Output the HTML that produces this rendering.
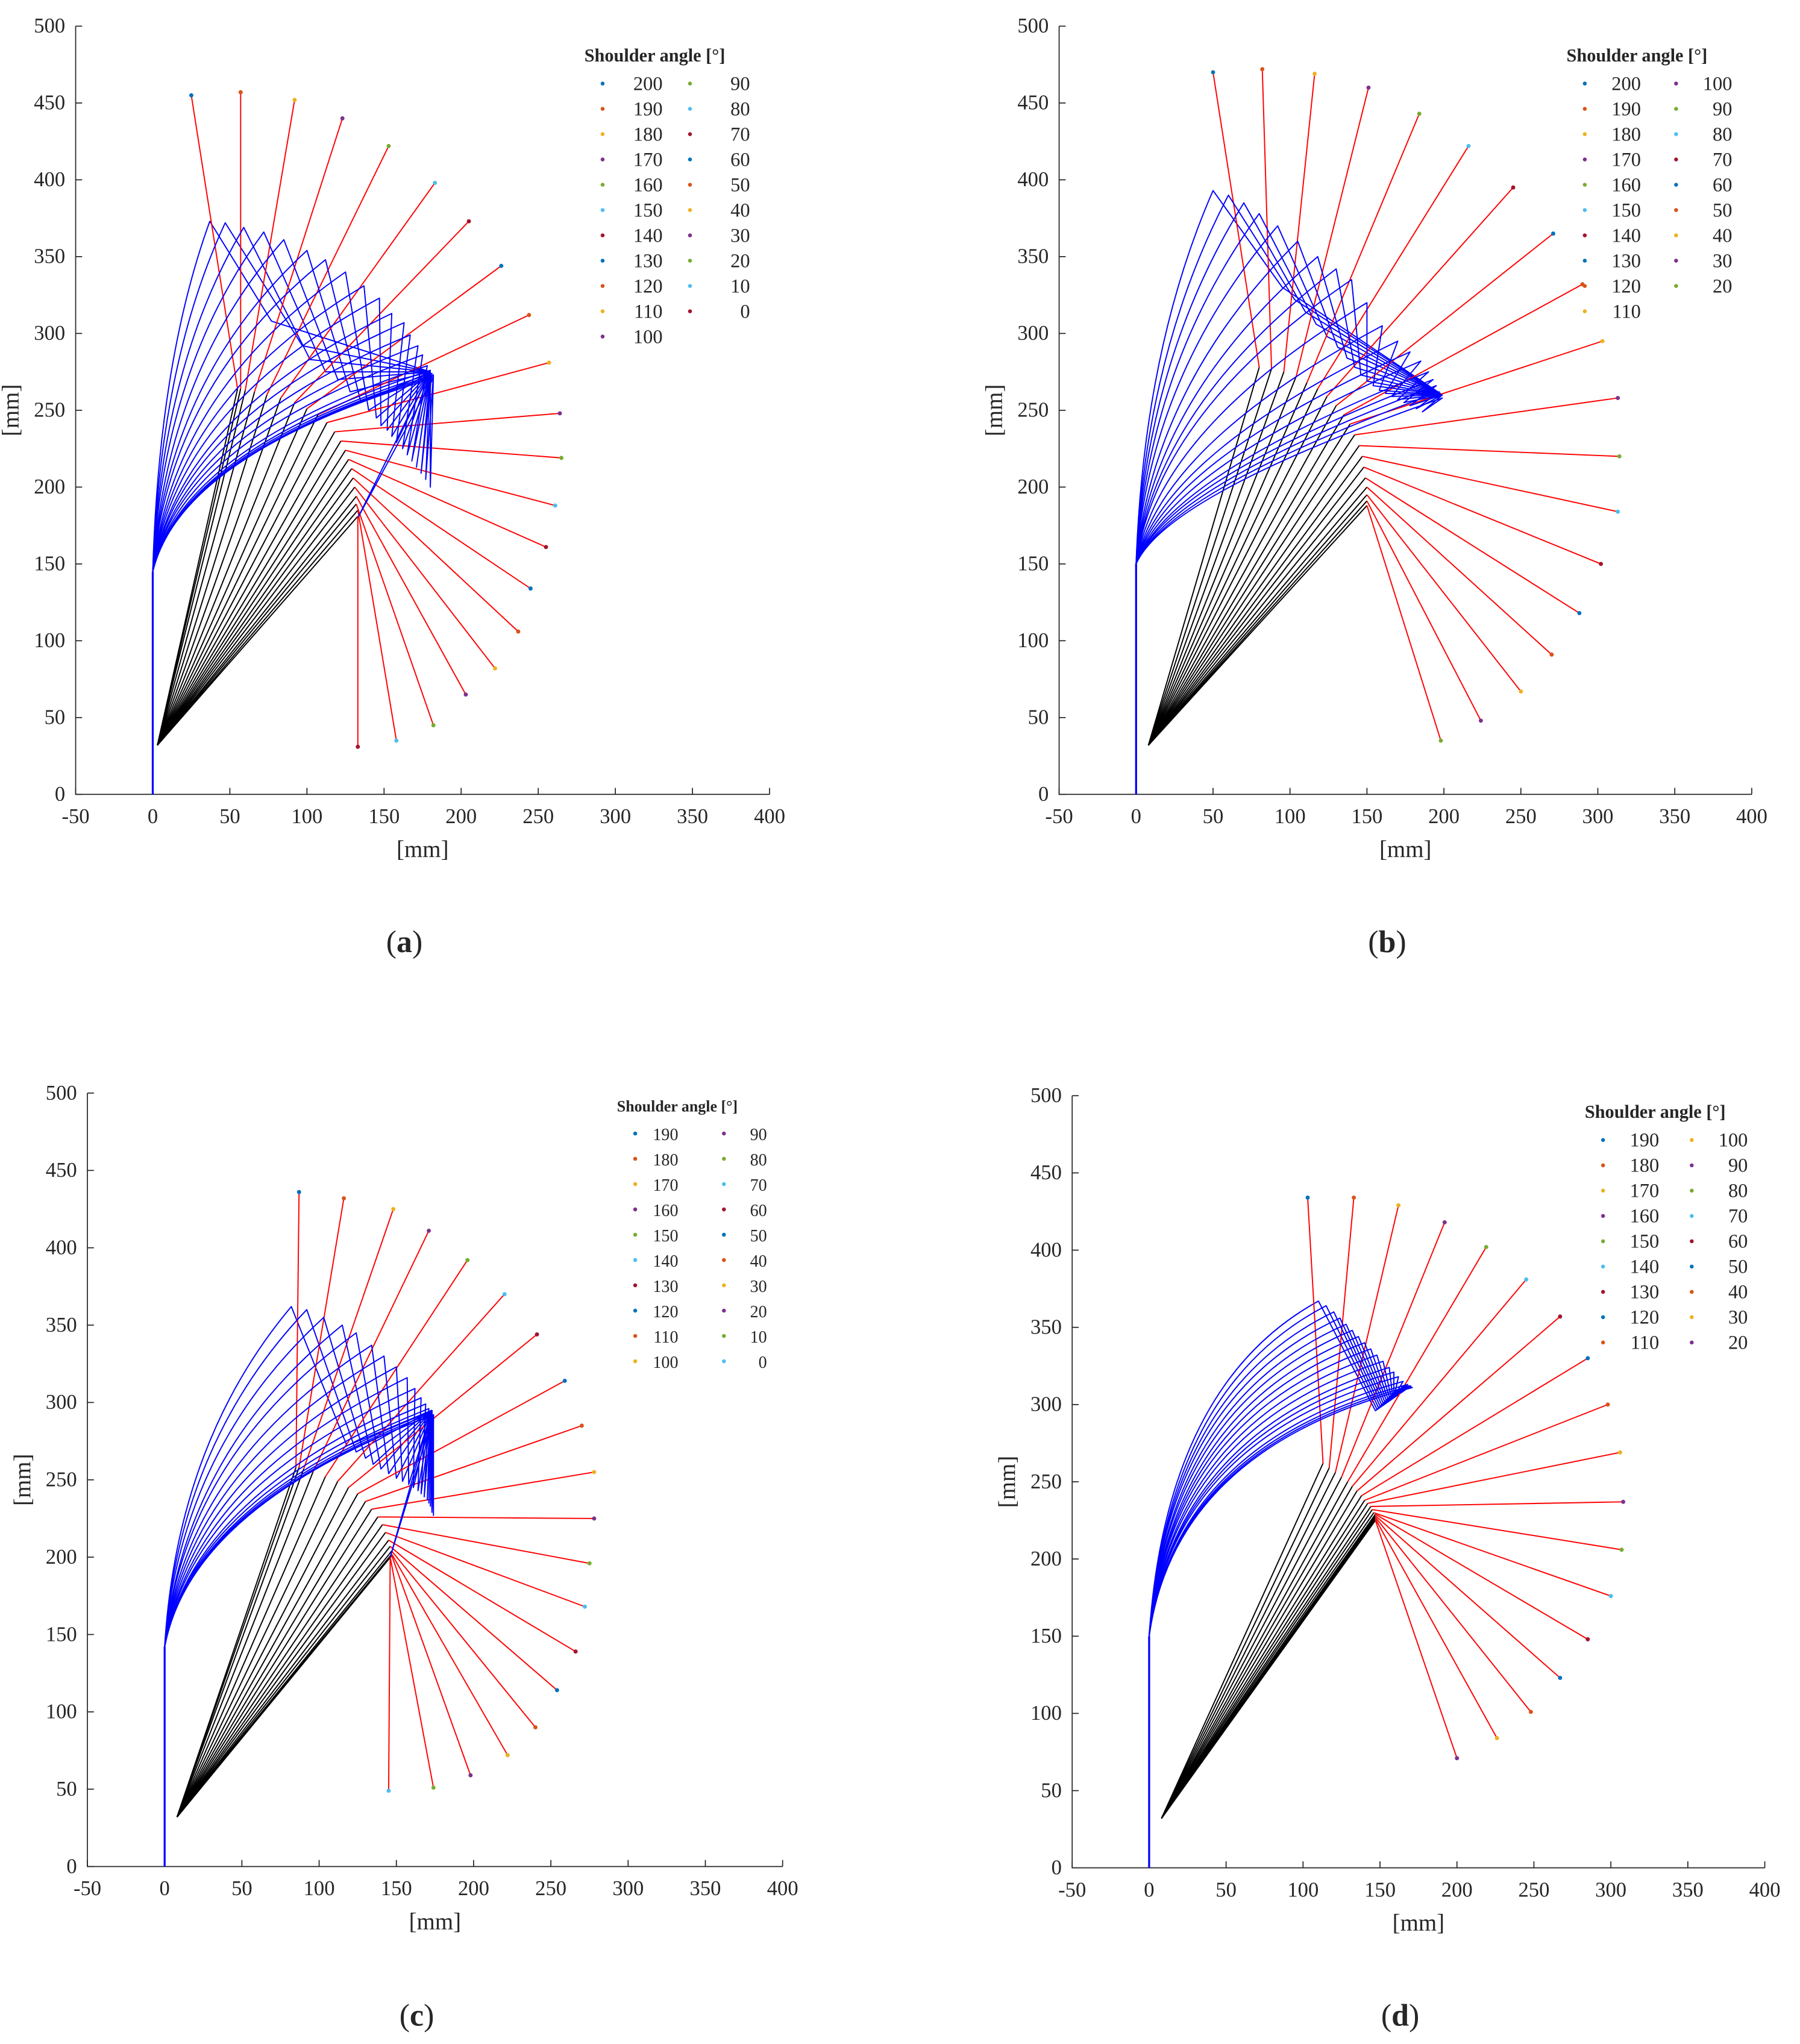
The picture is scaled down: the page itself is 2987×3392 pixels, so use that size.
<!DOCTYPE html>
<html><head><meta charset="utf-8">
<style>
html,body{margin:0;padding:0;background:#fff;}
svg{display:block;}
text{font-family:"Liberation Serif",serif;fill:#262626;}
</style></head>
<body>
<svg id="fig" width="2987" height="3392" viewBox="0 0 1380 1567" xmlns="http://www.w3.org/2000/svg">
<rect width="1380" height="1567" fill="#fff"/>
</svg>
<script>
// ---------- data (mm) ----------
const aAngles=[200,190,180,170,160,150,140,130,120,110,100,90,80,70,60,50,40,30,20,10,0];
const aTipX=[25,57,92,123,153,183,205,226,244,257,264,265,261,255,245,237,222,203,182,158,133];
const aTipY=[455,457,452,440,422,398,373,344,312,281,248,219,188,161,134,106,82,65,45,35,31];
const aElbX=[55,57,60,66,74,83,92,100,107,113,118,122,125,127,129,130,131,132,132,133,133];
const aElbY=[264,264,263,262,260,258,255,251,247,242,236,230,224,218,212,206,200,194,189,185,181];
const aKneeX=[4,5,6,7,9,10,11,13,14,15,16,16,17,17,18,18,18,18,18,18,18];
const aKneeY=[282,282,280,278,275,271,267,262,257,252,246,242,237,233,229,225,223,222,221,221,221];
const aPeakX=[37,47,59,72,85,100,112,125,137,147,155,163,167,172,175,178,180,181,182,182,182];
const aPeakY=[373,372,369,366,361,354,348,340,331,323,313,307,299,292,286,279,276,274,273,272,271];
const aValX=[77,97,102,112,120,128,135,140,145,148,152,155,158,162,165,168,171,174,177,180,133];
const aValY=[308,292,283,275,270,262,255,250,245,240,237,233,229,225,221,217,213,209,205,200,180];

const bAngles=[200,190,180,170,160,150,140,130,120,110,100,90,80,70,60,50,40,30,20];
const bTipX=[50,82,116,151,184,216,245,271,290,303,313,314,313,302,288,270,250,224,198];
const bTipY=[470,472,469,460,443,422,395,365,332,295,258,220,184,150,118,91,67,48,35];
const bElbX=[80,88,96,104,111,118,124,130,135,139,142,145,147,148,149,150,150,150,150];
const bElbY=[278,277,275,272,268,264,259,253,247,241,234,227,220,213,206,200,195,191,188];
const bKneeX=[5,6,7,8,9,11,12,13,14,15,16,17,18,19,19,19,20,20,20];
const bKneeY=[290,287,284,279,273,266,259,253,249,238,228,221,216,211,206,203,200,197,195];
const bPeakX=[50,60,70,80,92,105,118,130,140,150,160,170,178,185,190,193,195,197,199];
const bPeakY=[393,390,385,378,370,360,350,342,335,320,305,295,288,282,275,270,266,262,258];
const bValX=[95,103,110,117,124,131,137,142,146,150,154,158,162,166,170,174,178,182,186];
const bValY=[330,322,314,306,298,291,284,278,273,269,266,263,261,259,257,255,253,251,249];

const cAngles=[190,180,170,160,150,140,130,120,110,100,90,80,70,60,50,40,30,20,10,0];
const cTipX=[87,116,148,171,196,220,241,259,270,278,278,275,272,266,254,240,222,198,174,145];
const cTipY=[436,432,425,411,392,370,344,314,285,255,225,196,168,139,114,90,72,59,51,49];
const cElbX=[85,87,90,96,104,112,119,125,130,134,138,141,143,145,146,147,147,147,146,146];
const cElbY=[258,258,257,255,252,249,245,241,236,231,226,221,216,211,207,204,202,201,200,200];
const cKneeX=[8,9,10,12,12,13,14,15,16,16,17,17,17,17,17,17,17,17,17,17];
const cKneeY=[274,273,270,267,264,259,255,251,247,243,239,237,235,234,233,233,233,233,233,233];
const cPeakX=[82,92,103,115,124,134,142,150,157,162,166,169,171,172,173,174,174,174,174,174];
const cPeakY=[362,360,355,350,345,337,330,323,316,309,303,299,296,294,293,292,292,292,292,292];
const cValX=[118,124,130,135,140,145,150,154,158,161,164,166,168,170,171,172,173,173,174,146];
const cValY=[272,268,264,260,257,254,251,249,247,245,243,241,239,237,235,233,231,229,227,200];

const dAngles=[190,180,170,160,150,140,130,120,110,100,90,80,70,60,50,40,30,20];
const dTipX=[103,133,162,192,219,245,267,285,298,306,308,307,300,285,267,248,226,200];
const dTipY=[434,434,429,418,402,381,357,330,300,269,237,206,176,148,123,101,84,71];
const dElbX=[113,117,121,125,129,132,135,138,140,142,144,145,146,147,147,147,147,147];
const dElbY=[262,259,256,253,250,247,244,241,238,236,234,232,230,229,228,227,226,225];
const dKneeX=[11,12,12,12,13,13,14,14,14,15,15,16,16,16,17,17,17,17];
const dKneeY=[313,311,308,305,302,299,296,293,290,287,284,281,279,277,274,273,272,271];
const dPeakX=[110,115,120,124,128,132,136,140,144,148,152,156,159,162,165,168,170,171];
const dPeakY=[367,364,360,356,352,348,344,340,336,332,328,324,321,318,315,313,312,311];
const dValX=[147,148,149,150,151,152,153,154,155,156,157,158,159,160,162,164,166,168];
const dValY=[296,297,298,299,300,301,302,303,304,305,306,307,308,309,310,311,312,312];

const xTicks=[-50,0,50,100,150,200,250,300,350,400];
const yTicks=[0,50,100,150,200,250,300,350,400,450,500];
const dotColors=["#0072BD","#D95319","#EDB120","#7E2F8E","#77AC30","#4DBEEE","#A2142F"];

const NS="http://www.w3.org/2000/svg";
const fig=document.getElementById('fig');
function mk(tag,attrs,parent){const e=document.createElementNS(NS,tag);for(const k in attrs)e.setAttribute(k,attrs[k]);(parent||fig).appendChild(e);return e;}

function panel(cfg){
  const g=mk('g',{});
  
  
  const X=v=>cfg.x0+(v+50)*(cfg.x1-cfg.x0)/450;
  const Y=v=>cfg.y0-v*(cfg.y0-cfg.y1)/500;
  const ax=mk('path',{d:`M${X(-50)} ${Y(500)} V${Y(0)} H${X(400)}`,stroke:'#262626','stroke-width':0.8,fill:'none'},g);
  
  
  xTicks.forEach(t=>{
    mk('line',{x1:X(t),x2:X(t),y1:Y(0),y2:Y(0)-5,stroke:'#262626','stroke-width':0.8},g);
    const tx=mk('text',{x:X(t),y:Y(0)+22,'font-size':16,'text-anchor':'middle'},g);
    tx.textContent=t;
    
    
  });
  yTicks.forEach(t=>{
    mk('line',{x1:X(-50),x2:X(-50)+5,y1:Y(t),y2:Y(t),stroke:'#262626','stroke-width':0.8},g);
    const ty=mk('text',{x:X(-50)-8,y:Y(t)+5,'font-size':16,'text-anchor':'end'},g);
    ty.textContent=t;
    
    
  });
  const xl=mk('text',{x:(X(-50)+X(400))/2,y:Y(0)+48,'font-size':18,'text-anchor':'middle'},g);
  xl.textContent='[mm]';
  
  
  const yx=X(-50)-44, yy=(Y(0)+Y(500))/2;
  const yl=mk('text',{x:yx,y:yy,'font-size':18,'text-anchor':'middle',transform:`rotate(-90 ${yx} ${yy})`},g);
  yl.textContent='[mm]';
  
  
  const cap=mk('text',{x:(X(-50)+X(400))/2-14,y:cfg.capY,'font-size':24,'text-anchor':'middle'},g);
  cap.innerHTML='(<tspan font-weight="bold">'+cfg.id+'</tspan>)';
  
  
  const d=cfg.data;
  const bv=mk('line',{x1:X(0),x2:X(0),y1:Y(0),y2:Y(cfg.vTop),stroke:'#0000ff','stroke-width':1.5},g);
  
  
  for(let i=0;i<d.ang.length;i++){
    const bl=mk('path',{d:`M${X(0)},${Y(cfg.vTop)} Q${X(d.kx[i])},${Y(d.ky[i])} ${X(d.px[i])},${Y(d.py[i])} L${X(d.vx[i])},${Y(d.vy[i])} L${X(cfg.endX)},${Y(cfg.endY)}`,stroke:'#0000ff','stroke-width':0.9,fill:'none','stroke-linejoin':'round'},g);
    
    
    const k=mk('line',{x1:X(cfg.bx),y1:Y(cfg.by),x2:X(d.ex[i]),y2:Y(d.ey[i]),stroke:'#000','stroke-width':0.9},g);
    
    
    const r=mk('line',{x1:X(d.ex[i]),y1:Y(d.ey[i]),x2:X(d.tx[i]),y2:Y(d.ty[i]),stroke:'#ff0000','stroke-width':0.9},g);
    
    
    const p=mk('circle',{cx:X(d.tx[i]),cy:Y(d.ty[i]),r:1.6,fill:dotColors[i%7]},g);
    
    
  }
  const lg=mk('g',{},g);
  
  
  const lt=mk('text',{x:cfg.lx,y:cfg.ly,'font-size':cfg.lfs,'font-weight':'bold'},lg);
  lt.textContent='Shoulder angle [°]';
  
  
  const rows=cfg.rows;
  d.ang.forEach((a,i)=>{
    const col=Math.floor(i/rows), row=i%rows;
    const yy=cfg.ly+22+row*cfg.lstep;
    const dx=cfg.lx+14+col*cfg.colw;
    const c=mk('circle',{cx:dx,cy:yy-5,r:1.5,fill:dotColors[i%7]},lg);
    
    
    const t=mk('text',{x:dx+cfg.numOff,y:yy,'font-size':cfg.lfs+1,'text-anchor':'end'},lg);
    t.textContent=a;
    
    
  });
}

panel({id:'a',x0:58,x1:590,y0:609,y1:20,capY:730,vTop:145,endX:180,endY:275,bx:3,by:32,lx:448,ly:47,lfs:14,lstep:19.4,rows:11,colw:67,numOff:46,
  data:{ang:aAngles,tx:aTipX,ty:aTipY,ex:aElbX,ey:aElbY,kx:aKneeX,ky:aKneeY,px:aPeakX,py:aPeakY,vx:aValX,vy:aValY}});
panel({id:'b',x0:812,x1:1343,y0:609,y1:20,capY:730,vTop:150,endX:199,endY:260,bx:8,by:32,lx:1201,ly:47,lfs:14,lstep:19.4,rows:10,colw:70,numOff:43,
  data:{ang:bAngles,tx:bTipX,ty:bTipY,ex:bElbX,ey:bElbY,kx:bKneeX,ky:bKneeY,px:bPeakX,py:bPeakY,vx:bValX,vy:bValY}});
panel({id:'c',x0:67,x1:600,y0:1431,y1:838,capY:1553,vTop:142,endX:173,endY:295,bx:8,by:32,lx:473,ly:852,lfs:12,lstep:19.4,rows:10,colw:68,numOff:33,
  data:{ang:cAngles,tx:cTipX,ty:cTipY,ex:cElbX,ey:cElbY,kx:cKneeX,ky:cKneeY,px:cPeakX,py:cPeakY,vx:cValX,vy:cValY}});
panel({id:'d',x0:822,x1:1353,y0:1432,y1:840,capY:1553,vTop:150,endX:170,endY:312,bx:8,by:32,lx:1215,ly:857,lfs:14,lstep:19.4,rows:9,colw:68,numOff:43,
  data:{ang:dAngles,tx:dTipX,ty:dTipY,ex:dElbX,ey:dElbY,kx:dKneeX,ky:dKneeY,px:dPeakX,py:dPeakY,vx:dValX,vy:dValY}});
</script>
</body></html>
